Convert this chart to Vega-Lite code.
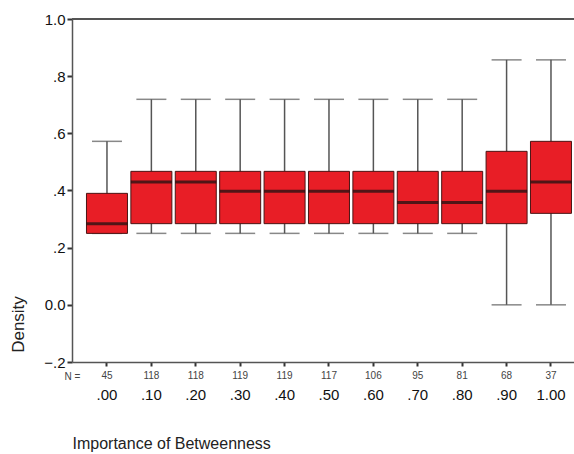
{
  "$schema": "https://vega.github.io/schema/vega-lite/v6.json",
  "width": 502,
  "height": 343,
  "autosize": {"type": "none"},
  "padding": {"left": 72, "top": 19, "right": 0, "bottom": 92},
  "background": "white",
  "config": {
    "view": {"stroke": null},
    "font": "Liberation Sans",
    "axis": {"grid": false, "domainColor": "#555", "tickColor": "#333", "labelColor": "#222", "titleColor": "#222", "titleFontWeight": "normal"}
  },
  "data": {
    "values": [
      {"cat": ".00", "n": 45, "lower": 0.25, "q1": 0.25, "median": 0.284, "q3": 0.39, "upper": 0.572},
      {"cat": ".10", "n": 118, "lower": 0.25, "q1": 0.284, "median": 0.43, "q3": 0.467, "upper": 0.719},
      {"cat": ".20", "n": 118, "lower": 0.25, "q1": 0.284, "median": 0.43, "q3": 0.467, "upper": 0.719},
      {"cat": ".30", "n": 119, "lower": 0.25, "q1": 0.284, "median": 0.397, "q3": 0.467, "upper": 0.719},
      {"cat": ".40", "n": 119, "lower": 0.25, "q1": 0.284, "median": 0.397, "q3": 0.467, "upper": 0.719},
      {"cat": ".50", "n": 117, "lower": 0.25, "q1": 0.284, "median": 0.397, "q3": 0.467, "upper": 0.719},
      {"cat": ".60", "n": 106, "lower": 0.25, "q1": 0.284, "median": 0.397, "q3": 0.467, "upper": 0.719},
      {"cat": ".70", "n": 95, "lower": 0.25, "q1": 0.284, "median": 0.358, "q3": 0.467, "upper": 0.719},
      {"cat": ".80", "n": 81, "lower": 0.25, "q1": 0.284, "median": 0.358, "q3": 0.467, "upper": 0.719},
      {"cat": ".90", "n": 68, "lower": 0.0, "q1": 0.284, "median": 0.397, "q3": 0.537, "upper": 0.857},
      {"cat": "1.00", "n": 37, "lower": 0.0, "q1": 0.32, "median": 0.43, "q3": 0.572, "upper": 0.857}
    ]
  },
  "resolve": {"axis": {"x": "independent"}},
  "layer": [
    {
      "mark": {"type": "rule", "color": "#555", "strokeWidth": 1.5},
      "encoding": {
        "x": {"field": "cat", "type": "ordinal", "sort": null,
          "scale": {"paddingInner": 0, "paddingOuter": 0.153, "align": 0.94},
          "axis": {"orient": "bottom", "title": "Importance of Betweenness", "labelAngle": 0, "labelFontSize": 15, "labelColor": "#111", "labelPadding": 21, "tickSize": 4, "tickWidth": 2, "domainWidth": 1.5,
            "titleFontSize": 16, "titleX": 0, "titleY": 86, "titleAlign": "left", "titleBaseline": "alphabetic", "titleAnchor": "start"}},
        "y": {"field": "lower", "type": "quantitative",
          "scale": {"domain": [-0.2, 1.0], "nice": false, "zero": false},
          "axis": {"title": "Density", "values": [-0.2, 0, 0.2, 0.4, 0.6, 0.8, 1.0],
            "labelExpr": "datum.value == 0 ? '0.0' : datum.value == 1 ? '1.0' : replace(format(datum.value, '.1f'), '0.', '.')",
            "labelFontSize": 15, "labelColor": "#111", "labelPadding": 2, "tickSize": 5, "tickWidth": 2, "domainWidth": 1.5,
            "titleFontSize": 17, "titleAngle": -90, "titleX": -54, "titleY": 305, "titleAlign": "center", "titleBaseline": "middle"}},
        "y2": {"field": "upper"}
      }
    },
    {
      "mark": {"type": "tick", "color": "#555", "thickness": 1.5, "size": 30},
      "encoding": {
        "x": {"field": "cat", "type": "ordinal", "sort": null, "axis": null},
        "y": {"field": "lower", "type": "quantitative"}
      }
    },
    {
      "mark": {"type": "tick", "color": "#555", "thickness": 1.5, "size": 30},
      "encoding": {
        "x": {"field": "cat", "type": "ordinal", "sort": null, "axis": null},
        "y": {"field": "upper", "type": "quantitative"}
      }
    },
    {
      "mark": {"type": "bar", "size": 41, "fill": "#E81E26", "stroke": "#4a1515", "strokeWidth": 1},
      "encoding": {
        "x": {"field": "cat", "type": "ordinal", "sort": null, "axis": null},
        "y": {"field": "q1", "type": "quantitative"},
        "y2": {"field": "q3"}
      }
    },
    {
      "mark": {"type": "tick", "color": "#111", "thickness": 3, "size": 41},
      "encoding": {
        "x": {"field": "cat", "type": "ordinal", "sort": null, "axis": null},
        "y": {"field": "median", "type": "quantitative"}
      }
    },
    {
      "mark": {"type": "text", "fontSize": 10, "color": "#444", "baseline": "middle", "dy": 14},
      "encoding": {
        "x": {"field": "cat", "type": "ordinal", "sort": null,
          "axis": {"orient": "bottom", "title": "N =", "labels": false, "ticks": false, "domain": false, "titleFontSize": 10, "titleColor": "#444", "titleX": 0, "titleY": 14, "titleAlign": "center", "titleBaseline": "middle"}},
        "y": {"datum": -0.2, "type": "quantitative"},
        "text": {"field": "n"}
      }
    },
    {
      "mark": {"type": "rule", "color": "#555", "strokeWidth": 1.5},
      "encoding": {"y": {"datum": 1.0, "type": "quantitative"}}
    }
  ]
}
